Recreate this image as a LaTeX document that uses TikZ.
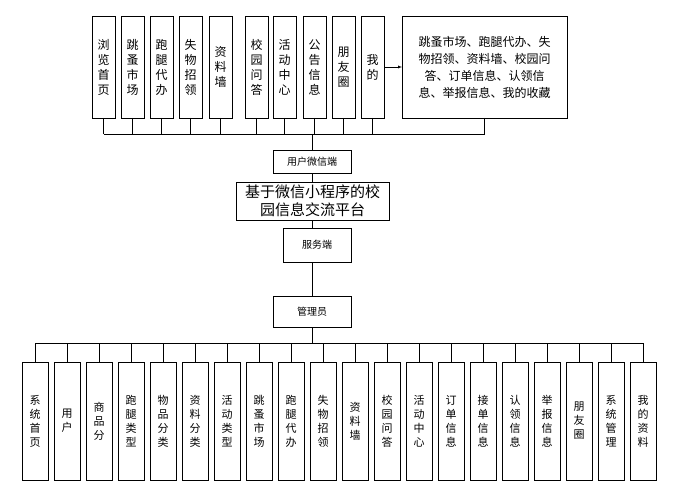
\documentclass[tikz,border=0pt]{standalone}
\usepackage{fontspec}
\setmainfont{Noto Sans CJK SC}
\usetikzlibrary{positioning,arrows}
\begin{document}
\begin{tikzpicture}[x=1pt,y=-1pt,
  every node/.style={draw,outer sep=0pt,thick,inner sep=0pt},
  vbox/.style={minimum width=23pt,minimum height=102pt,anchor=north west,font=\fontsize{12}{15}\selectfont,align=center},
  lbox/.style={minimum width=26pt,minimum height=118pt,anchor=north west,font=\fontsize{11}{14}\selectfont,align=center},
  mbox/.style={minimum width=78pt,anchor=north west,font=\fontsize{10}{12}\selectfont}]
\useasboundingbox (0,0) rectangle (693,500);

% user side
\foreach \xx/\txt [count=\i] in {92/浏\\览\\首\\页,121/跳\\蚤\\市\\场,150/跑\\腿\\代\\办,179/失\\物\\招\\领,209/资\\料\\墙,245/校\\园\\问\\答,273/活\\动\\中\\心,303/公\\告\\信\\息,332/朋\\友\\圈,361/我\\的}{
  \node (u\i) [vbox] at (\xx,16) {\txt};
  \draw (u\i.south) -- ++(0,16);
}
\node (mine) [anchor=north west,minimum width=165pt,minimum height=102pt,align=center,font=\fontsize{12}{17}\selectfont] at (402,16) {跳蚤市场、跑腿代办、失\\物招领、资料墙、校园问\\答、订单信息、认领信\\息、举报信息、我的收藏};
\draw (mine.south) -- ++(0,16);
\draw [-latex] (u10.east) -- (mine.west);
\draw (u1.south |- 0,134) -- (mine.south |- 0,134);

\node (wx) [mbox,minimum height=23pt] at (273,150) {用户微信端};
\node (plat) [anchor=north west,minimum width=153pt,minimum height=38pt,align=center,font=\fontsize{15}{18}\selectfont] at (236,182) {基于微信小程序的校\\园信息交流平台};
\node (srv) [minimum width=68pt,minimum height=34pt,anchor=north west,font=\fontsize{10}{12}\selectfont] at (283,228) {服务端};
\node (adm) [mbox,minimum height=31pt] at (273,296) {管理员};
\draw (312,134) -- (wx.north);
\draw (wx.south) -- (wx.south |- plat.north);
\draw (wx.south |- plat.south) -- (wx.south |- srv.north);
\draw (wx.south |- srv.south) -- (adm.north);

% admin side
\foreach \txt [count=\i from 0] in {系\\统\\首\\页,用\\户,商\\品\\分,跑\\腿\\类\\型,物\\品\\分\\类,资\\料\\分\\类,活\\动\\类\\型,跳\\蚤\\市\\场,跑\\腿\\代\\办,失\\物\\招\\领,资\\料\\墙,校\\园\\问\\答,活\\动\\中\\心,订\\单\\信\\息,接\\单\\信\\息,认\\领\\信\\息,举\\报\\信\\息,朋\\友\\圈,系\\统\\管\\理,我\\的\\资\\料}{
  \node (a\i) [lbox] at (22+32*\i,362) {\txt};
  \draw (a\i.north) -- ++(0,-19);
}
\draw (adm.south) -- ++(0,16);
\draw (a0.north |- 0,343) -- (a19.north |- 0,343);
\end{tikzpicture}
\end{document}
